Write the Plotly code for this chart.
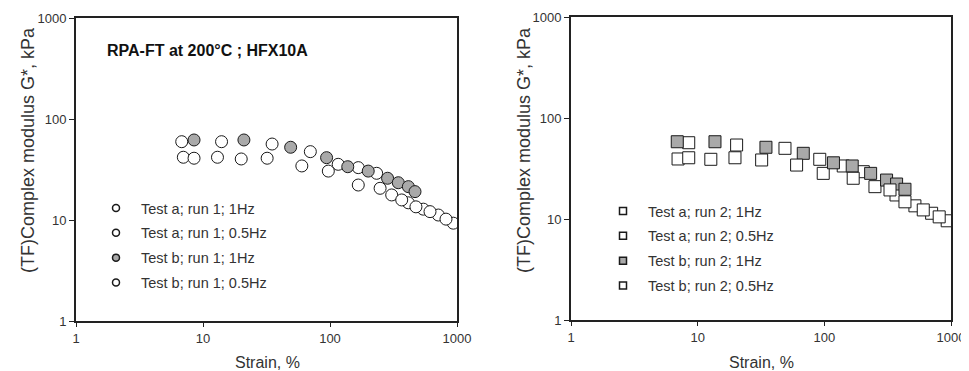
import plotly.graph_objects as go

# the page body adds an 8px offset; the figure is sized so it fits the 969x371 window
PAGE_OFF = 8
W, H = 969 - PAGE_OFF, 371 - PAGE_OFF
FONT = "Liberation Sans, Arial, sans-serif"

# ---- data: left panel (run 1, circles)
a1_1hz_x = [6.8, 14, 35, 70, 116, 167, 233]
a1_1hz_y = [59.6, 59.6, 56.5, 47.5, 35.6, 33, 29]
a1_05_x = [7, 13, 32, 60, 167, 306, 414, 543, 713, 935]
a1_05_y = [41.8, 41.8, 40.9, 34.3, 22.2, 17.7, 14.8, 12.8, 11.2, 9.3]
b1_1hz_x = [8.5, 21, 49, 94, 138, 200, 284, 345, 414, 467]
b1_1hz_y = [62, 62, 52.5, 41.4, 33.7, 30.5, 25.9, 23.4, 21.4, 19.1]
b1_05_x = [8.5, 20, 97, 248, 367, 475, 613, 819]
b1_05_y = [40.9, 40.2, 30.5, 20.6, 15.8, 13.5, 12.1, 10.2]

# ---- data: right panel (run 2, squares)
a2_1hz_x = [8.5, 20.3, 48.9, 92, 141, 203]
a2_1hz_y = [56.9, 54, 50.1, 39, 33.5, 29.4]
a2_05_x = [7.0, 12.7, 32, 98, 251, 368, 519, 703, 933]
a2_05_y = [39.3, 39, 38.4, 28.3, 20.9, 17.3, 13.5, 11.4, 9.6]
b2_1hz_x = [6.9, 13.7, 34.6, 68.2, 118, 166, 232, 310, 372, 433]
b2_1hz_y = [58.2, 58.2, 51.3, 44.7, 36, 33.5, 28.3, 24.3, 22.2, 19.7]
b2_05_x = [8.5, 19.7, 60.4, 169, 330, 433, 604, 807]
b2_05_y = [40.4, 40.4, 34.2, 25.3, 19.4, 14.8, 12.3, 10.5]

left_names = ["Test a; run 1; 1Hz", "Test a; run 1; 0.5Hz", "Test b; run 1; 1Hz", "Test b; run 1; 0.5Hz"]
right_names = ["Test a; run 2; 1Hz", "Test a; run 2; 0.5Hz", "Test b; run 2; 1Hz", "Test b; run 2; 0.5Hz"]
tick_vals = [1, 10, 100, 1000]
tick_text = ["1", "10", "100", "1000"]
title_text = "RPA-FT at 200°C ; HFX10A"
y_title = "(TF)Complex modulus G*, kPa"
x_title = "Strain, %"

GRAY = "#a9a9a9"
OPEN = "white"
LINE = "#1a1a1a"

left_series = [(a1_1hz_x, a1_1hz_y, OPEN), (a1_05_x, a1_05_y, OPEN),
               (b1_1hz_x, b1_1hz_y, GRAY), (b1_05_x, b1_05_y, OPEN)]
right_series = [(a2_1hz_x, a2_1hz_y, OPEN), (a2_05_x, a2_05_y, OPEN),
                (b2_1hz_x, b2_1hz_y, GRAY), (b2_05_x, b2_05_y, OPEN)]

fig = go.Figure()

def add_panel(series, names, xa, ya, symbol, size, legend):
    for (xs, ys, col) in series:
        fig.add_trace(go.Scatter(x=xs, y=ys, mode="markers", xaxis=xa, yaxis=ya,
                                 showlegend=False, hoverinfo="x+y",
                                 marker=dict(symbol=symbol, size=size, color=col,
                                             line=dict(color=LINE, width=1))))
    for i, ((xs, ys, col), nm) in enumerate(zip(series, names)):
        fig.add_trace(go.Scatter(x=[None], y=[None], mode="markers", xaxis=xa, yaxis=ya,
                                 name=nm, legend=legend, legendgroup=f"{legend}{i}",
                                 showlegend=True,
                                 marker=dict(symbol=symbol, size=7, color=col,
                                             line=dict(color=LINE, width=1.5))))

add_panel(left_series, left_names, "x", "y", "circle", 12, "legend")
add_panel(right_series, right_names, "x2", "y2", "square", 12, "legend2")

def px_x(p):
    return (p - PAGE_OFF) / W

def px_y(p):
    return 1 - (p - PAGE_OFF) / H

axis_common = dict(type="log", range=[0, 3], showgrid=False, zeroline=False,
                   automargin=False,
                   showline=True, linecolor="#222", linewidth=2, mirror=True,
                   ticks="outside", tickcolor="#222", tickwidth=1.2,
                   tickvals=tick_vals, ticktext=tick_text,
                   tickfont=dict(family=FONT, size=13, color="#333"))

xaxis_extra = dict(ticklen=4)
yaxis_extra = dict(ticklen=5, ticksuffix="  ")

legend_common = dict(xanchor="left", yanchor="top", bgcolor="rgba(0,0,0,0)",
                     tracegroupgap=3, traceorder="grouped", itemwidth=40,
                     font=dict(family=FONT, size=14.5, color="#333"))

fig.update_layout(
    template="none",
    width=W, height=H, margin=dict(l=0, r=0, t=0, b=0, autoexpand=False),
    paper_bgcolor="white", plot_bgcolor="white",
    xaxis=dict(axis_common, domain=[px_x(76), px_x(457)], anchor="y", **xaxis_extra),
    yaxis=dict(axis_common, domain=[px_y(321), px_y(18)], anchor="x", **yaxis_extra),
    xaxis2=dict(axis_common, domain=[px_x(571), px_x(951)], anchor="y2", **xaxis_extra),
    yaxis2=dict(axis_common, domain=[px_y(320), px_y(17)], anchor="x2", **yaxis_extra),
    legend=dict(legend_common, x=px_x(91), y=px_y(192)),
    legend2=dict(legend_common, x=px_x(598), y=px_y(195)),
    showlegend=True,
)

annos = [
    dict(text="<b>" + title_text + "</b>", x=px_x(105), y=px_y(50), xanchor="left", yanchor="middle",
         font=dict(family=FONT, size=16, color="#111")),
    dict(text=y_title, x=px_x(28), y=px_y(150), textangle=-90, xanchor="center", yanchor="middle",
         font=dict(family=FONT, size=18, color="#333")),
    dict(text=y_title, x=px_x(524), y=px_y(150), textangle=-90, xanchor="center", yanchor="middle",
         font=dict(family=FONT, size=18, color="#333")),
    dict(text=x_title, x=px_x(267), y=px_y(362), xanchor="center", yanchor="middle",
         font=dict(family=FONT, size=16, color="#333")),
    dict(text=x_title, x=px_x(761), y=px_y(362), xanchor="center", yanchor="middle",
         font=dict(family=FONT, size=16, color="#333")),
]
for a in annos:
    a.update(xref="paper", yref="paper", showarrow=False)
fig.update_layout(annotations=annos)

fig.write_html("out.html")
